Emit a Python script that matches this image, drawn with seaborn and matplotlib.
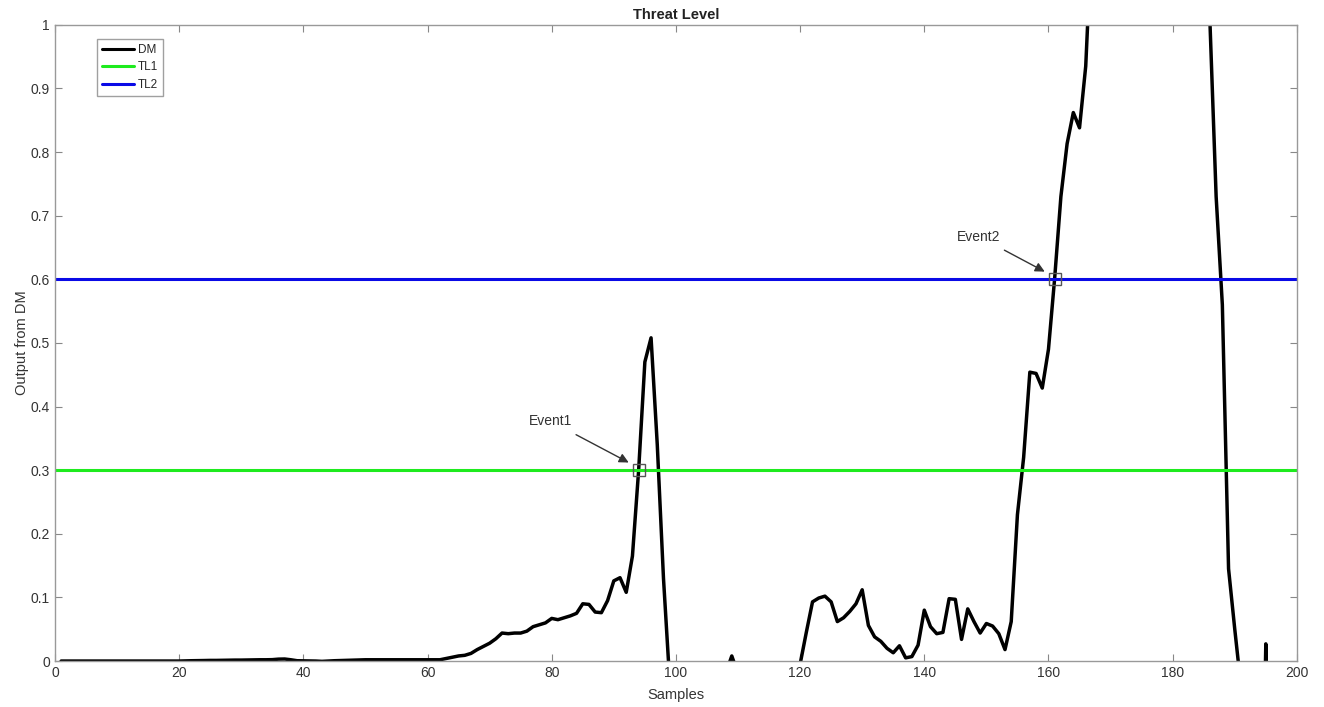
import numpy as np
import pandas as pd
import matplotlib
matplotlib.use("Agg")
import matplotlib.pyplot as plt
import seaborn as sns

# ---------------- data ----------------
samples = list(range(1, 201))

dm_1_60 = [0.0] * 20 + [
    0.0003, 0.0005, 0.0006, 0.0008, 0.001, 0.001, 0.0012, 0.0013, 0.0015, 0.0015,
    0.0017, 0.0018, 0.002, 0.002, 0.0022, 0.003, 0.0032, 0.002, 0.0005, 0.0003,
    0.0002, 0.0, -0.0005, 0.0, 0.0005, 0.0008, 0.0012, 0.0015, 0.0018, 0.002,
    0.002, 0.002, 0.002, 0.002, 0.002, 0.002, 0.002, 0.002, 0.002, 0.002]
dm_61_100 = [
    0.002, 0.002, 0.004, 0.006, 0.008, 0.009, 0.012, 0.018, 0.023, 0.028,
    0.035, 0.044, 0.043, 0.044, 0.044, 0.047, 0.054, 0.057, 0.060, 0.067,
    0.065, 0.068, 0.071, 0.075, 0.090, 0.089, 0.077, 0.076, 0.095, 0.126,
    0.131, 0.108, 0.165, 0.300, 0.470, 0.508, 0.340, 0.130, -0.030, -0.200]
dm_101_140 = [
    -0.30, -0.30, -0.28, -0.25, -0.22, -0.18, -0.10, -0.02, 0.008, -0.02,
    -0.10, -0.20, -0.25, -0.28, -0.28, -0.25, -0.22, -0.20, -0.10, -0.005,
    0.045, 0.093, 0.099, 0.102, 0.093, 0.062, 0.068, 0.078, 0.090, 0.112,
    0.056, 0.038, 0.031, 0.020, 0.013, 0.024, 0.005, 0.007, 0.025, 0.080]
dm_141_200 = [
    0.054, 0.043, 0.045, 0.098, 0.097, 0.034, 0.082, 0.062, 0.044, 0.059,
    0.055, 0.043, 0.018, 0.062, 0.230, 0.320, 0.454, 0.452, 0.429, 0.490,
    0.602, 0.730, 0.813, 0.862, 0.838, 0.935, 1.150, 1.300, 1.450, 1.550,
    1.620, 1.680, 1.700, 1.700, 1.680, 1.650, 1.600, 1.550, 1.500, 1.450,
    1.400, 1.350, 1.300, 1.250, 1.150, 1.005, 0.730, 0.560, 0.145, 0.050,
    -0.040, -0.300, -0.400, -0.500, 0.027, -0.500, -0.400, -0.400, -0.400, -0.400]
dm_values = dm_1_60 + dm_61_100 + dm_101_140 + dm_141_200

tl_x = [0, 200]
tl1_values = [0.3, 0.3]
tl2_values = [0.6, 0.6]

event_names = ["Event1", "Event2"]
event_x = [94, 161]
event_y = [0.3, 0.6]
event_text_xy = [(79.8, 0.377), (148.8, 0.667)]

x_ticks = list(range(0, 201, 20))
y_ticks = [0, 0.1, 0.2, 0.3, 0.4, 0.5, 0.6, 0.7, 0.8, 0.9, 1]
y_tick_labels = ["0", "0.1", "0.2", "0.3", "0.4", "0.5", "0.6", "0.7", "0.8", "0.9", "1"]

# ---------------- plot ----------------
sns.set_style("white")
plt.rcParams["font.family"] = ["Liberation Sans", "DejaVu Sans"]

fig = plt.figure(figsize=(13.24, 7.07), dpi=100)
ax = fig.add_axes([0.0415, 0.065, 0.938, 0.9])

df_dm = pd.DataFrame({"Samples": samples, "DM": dm_values})
df_tl1 = pd.DataFrame({"Samples": tl_x, "TL1": tl1_values})
df_tl2 = pd.DataFrame({"Samples": tl_x, "TL2": tl2_values})

sns.lineplot(data=df_dm, x="Samples", y="DM", color="black", linewidth=2.5,
             ax=ax, label="DM", estimator=None, sort=False)
sns.lineplot(data=df_tl1, x="Samples", y="TL1", color="#1EEB1E", linewidth=2.2,
             ax=ax, label="TL1", estimator=None)
sns.lineplot(data=df_tl2, x="Samples", y="TL2", color="#0A0AE6", linewidth=2.2,
             ax=ax, label="TL2", estimator=None)

# event markers and annotations
for name, ex, ey, txy in zip(event_names, event_x, event_y, event_text_xy):
    ax.plot([ex], [ey], marker="s", markersize=8, markerfacecolor="none",
            markeredgecolor="#555555", markeredgewidth=1.0, linestyle="none")
    ax.annotate(name, xy=(ex - 1.6, ey + 0.012), xytext=txy,
                ha="center", va="center", fontsize=10, color="#333333",
                arrowprops=dict(arrowstyle="-|>", color="#333333", lw=1.0,
                                mutation_scale=14, shrinkA=5, shrinkB=0))

ax.set_xlim(0, 200)
ax.set_ylim(0, 1)
ax.set_xticks(x_ticks)
ax.set_yticks(y_ticks)
ax.set_yticklabels(y_tick_labels)
ax.tick_params(direction="in", length=5, width=0.8, color="#888888",
               labelcolor="#333333", labelsize=10, top=True, right=True,
               bottom=True, left=True, labeltop=False, labelright=False)
for s in ax.spines.values():
    s.set_color("#999999")
    s.set_linewidth(1.0)

ax.set_xlabel("Samples", fontsize=10.5, color="#333333", labelpad=6)
ax.set_ylabel("Output from DM", fontsize=10.5, color="#333333", labelpad=1)
ax.set_title("Threat Level", fontsize=10.5, fontweight="bold", color="#222222", pad=4)

leg = ax.legend(loc="upper left", bbox_to_anchor=(0.034, 0.978), fontsize=8.5,
                frameon=True, fancybox=False, handlelength=2.7, handletextpad=0.3,
                borderpad=0.45, labelspacing=0.45, borderaxespad=0)
leg.get_frame().set_edgecolor("#888888")
leg.get_frame().set_linewidth(1.0)
for line in leg.get_lines():
    line.set_linewidth(2.2)

fig.savefig("out.png", dpi=100, facecolor="white")
